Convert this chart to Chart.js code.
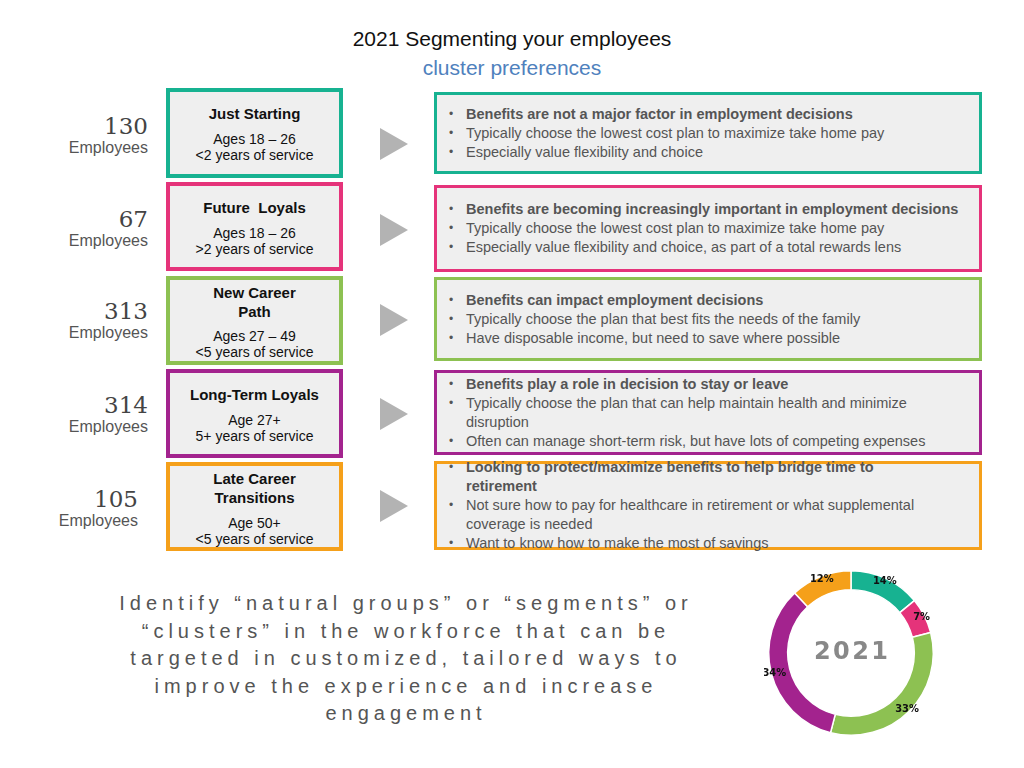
<!DOCTYPE html>
<html>
<head>
<meta charset="utf-8">
<script src="https://cdn.jsdelivr.net/npm/chart.js@4"></script>
<style>
  body { margin: 0; width: 1024px; height: 768px; background: #fff; font-family: "Liberation Sans", Arial, sans-serif; position: relative; overflow: hidden; }
  .abs { position: absolute; }
  .title { left: 0; width: 1024px; top: 24px; text-align: center; font-size: 21px; color: #111; line-height: 29px; }
  .title span { color: #4f81bd; }
  .count { width: 110px; left: 38px; text-align: right; color: #555; }
  .count b { font-family: "DejaVu Serif", serif; font-weight: normal; font-size: 23px; display: block; line-height: 26px; color: #444; }
  .count i { font-style: normal; font-size: 16px; }
  .seg { left: 166px; width: 169px; background: #efefef; border: 4px solid; text-align: center; font-size: 14px; color: #111; }
  .seg h4 { margin: 0 0 8px; font-size: 15px; line-height: 19px; }
  .arrow { left: 380px; width: 0; height: 0; border-top: 16px solid transparent; border-bottom: 16px solid transparent; border-left: 28px solid #b3b3b3; }
  .desc { left: 434px; width: 542px; background: #efefef; border: 3px solid; font-size: 14.5px; color: #555; display: flex; align-items: center; }
  .desc ul { margin: 0; padding-left: 29px; padding-right: 50px; line-height: 19px; list-style: none; }
  .desc li { position: relative; }
  .desc li::before { content: "•"; position: absolute; left: -17px; font-size: 12px; }
  .desc li b { color: #555; }
  .quote { left: 96px; width: 620px; top: 590px; text-align: center; font-size: 20px; letter-spacing: 5px; line-height: 27.5px; color: #555; }
  #wrap { left: 764px; top: 566px; width: 174px; height: 174px; }
</style>
</head>
<body>
<div class="abs title">2021 Segmenting your employees<br><span>cluster preferences</span></div>

<div class="abs count" style="top:113px"><b>130</b><i>Employees</i></div>
<div class="abs count" style="top:206px"><b>67</b><i>Employees</i></div>
<div class="abs count" style="top:298px"><b>313</b><i>Employees</i></div>
<div class="abs count" style="top:392px"><b>314</b><i>Employees</i></div>
<div class="abs count" style="top:486px;left:28px"><b>105</b><i>Employees</i></div>

<div class="abs seg" style="top:88px;height:82px;border-color:#17b291"><h4 style="margin-top:12px">Just Starting</h4>Ages 18 – 26<br>&lt;2 years of service</div>
<div class="abs seg" style="top:182px;height:81px;border-color:#e5337a"><h4 style="margin-top:12px">Future&nbsp; Loyals</h4>Ages 18 – 26<br>&gt;2 years of service</div>
<div class="abs seg" style="top:276px;height:81px;border-color:#8dc152"><h4 style="margin-top:3px;margin-bottom:7px">New Career<br>Path</h4>Ages 27 – 49<br>&lt;5 years of service</div>
<div class="abs seg" style="top:369px;height:81px;border-color:#a3238e"><h4 style="margin-top:12px">Long-Term Loyals</h4>Age 27+<br>5+ years of service</div>
<div class="abs seg" style="top:462px;height:81px;border-color:#f5a01a"><h4 style="margin-top:3px;margin-bottom:8px">Late Career<br>Transitions</h4>Age 50+<br>&lt;5 years of service</div>

<div class="abs arrow" style="top:128px"></div>
<div class="abs arrow" style="top:214px"></div>
<div class="abs arrow" style="top:304px"></div>
<div class="abs arrow" style="top:398px"></div>
<div class="abs arrow" style="top:490px"></div>

<div class="abs desc" style="top:92px;height:76px;border-color:#17b291"><ul><li><b>Benefits are not a major factor in employment decisions</b></li><li>Typically choose the lowest cost plan to maximize take home pay</li><li>Especially value flexibility and choice</li></ul></div>
<div class="abs desc" style="top:185px;height:81px;border-color:#e5337a"><ul style="padding-right:5px"><li><b>Benefits are becoming increasingly important in employment decisions</b></li><li>Typically choose the lowest cost plan to maximize take home pay</li><li>Especially value flexibility and choice, as part of a total rewards lens</li></ul></div>
<div class="abs desc" style="top:277px;height:78px;border-color:#8dc152"><ul><li><b>Benefits can impact employment decisions</b></li><li>Typically choose the plan that best fits the needs of the family</li><li>Have disposable income, but need to save where possible</li></ul></div>
<div class="abs desc" style="top:370px;height:79px;border-color:#a3238e"><ul><li><b>Benefits play a role in decision to stay or leave</b></li><li>Typically choose the plan that can help maintain health and minimize disruption</li><li>Often can manage short-term risk, but have lots of competing expenses</li></ul></div>
<div class="abs desc" style="top:461px;height:83px;border-color:#f5a01a"><ul><li><b>Looking to protect/maximize benefits to help bridge time to retirement</b></li><li>Not sure how to pay for healthcare in retirement or what supplemental coverage is needed</li><li>Want to know how to make the most of savings</li></ul></div>

<div class="abs quote">Identify “natural groups” or “segments” or “clusters” in the workforce that can be targeted in customized, tailored ways to improve the experience and increase engagement</div>

<div class="abs" id="wrap"><canvas id="donut"></canvas></div>

<script>
  // --- donut data ---
  const segments = ["Just Starting", "Future Loyals", "New Career Path", "Long-Term Loyals", "Late Career Transitions"];
  const shares = [14, 7, 33, 34, 12];
  const colors = ["#17b291", "#e5337a", "#8dc152", "#a3238e", "#f5a01a"];
  const centerText = "2021";

  // labels sit on the ring, with the center year
  const ringLabels = {
    id: "ringLabels",
    afterDatasetsDraw(chart) {
      const ctx = chart.ctx;
      const meta = chart.getDatasetMeta(0);
      ctx.save();
      ctx.font = "bold 11px 'DejaVu Sans Condensed', sans-serif";
      ctx.fillStyle = "#111";
      ctx.textAlign = "center";
      ctx.textBaseline = "middle";
      meta.data.forEach((arc, i) => {
        const mid = (arc.startAngle + arc.endAngle) / 2;
        const r = arc.outerRadius - 3;
        ctx.fillText(shares[i] + "%", arc.x + Math.cos(mid) * r, arc.y + Math.sin(mid) * r);
      });
      const a = meta.data[0];
      ctx.font = "bold 24px 'DejaVu Sans', sans-serif";
      ctx.fillStyle = "#888";
      ctx.fillText(centerText.split("").join(String.fromCharCode(8202)), a.x, a.y);
      ctx.restore();
    }
  };

  new Chart(document.getElementById("donut"), {
    type: "doughnut",
    data: {
      labels: segments,
      datasets: [{ data: shares, backgroundColor: colors, borderColor: "#fff", borderWidth: 1.5 }]
    },
    options: {
      responsive: true,
      maintainAspectRatio: false,
      animation: false,
      cutout: "77%",
      layout: { padding: 4 },
      plugins: { legend: { display: false }, tooltip: { enabled: false } }
    },
    plugins: [ringLabels]
  });
</script>
</body>
</html>
